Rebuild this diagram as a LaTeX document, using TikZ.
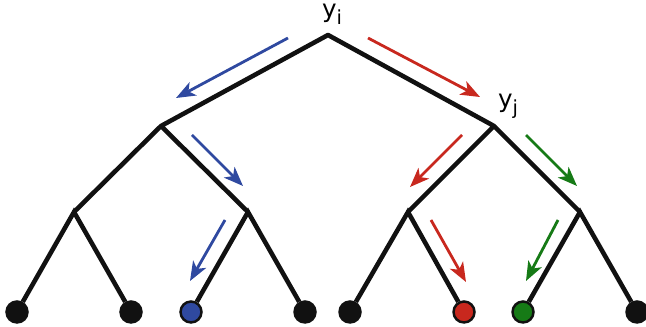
\documentclass[tikz,border=0pt]{standalone}
\usepackage{fontspec}
\setsansfont{DejaVu Sans}
\usetikzlibrary{arrows.meta}
\definecolor{tblue}{RGB}{47,73,160}
\definecolor{tred}{RGB}{200,40,30}
\definecolor{tgreen}{RGB}{22,122,22}
\definecolor{tblack}{RGB}{17,17,17}
\newcommand{\lbl}[2]{#1\raisebox{-0.5ex}{\fontsize{11}{11}\selectfont #2}}
\begin{document}
\begin{tikzpicture}[x=0.02cm, y=-0.02cm, font=\sffamily\fontsize{14}{16}\selectfont,
          edge/.style={draw=tblack, line width=2.6pt},
          leaf/.style={circle, draw=tblack, line width=1.4pt, fill=tblack, minimum size=0.42cm, inner sep=0pt},
          arr/.style={-{Stealth[length=11pt, width=8.5pt, inset=3pt]}, line width=1.6pt}]
        \useasboundingbox (0,0) rectangle (646,327);
        % inner nodes
        \coordinate (r) at (328,35);
        \coordinate (a) at (161,126);
        \coordinate (b) at (494,126);
        \coordinate (aa) at (74,212);
        \coordinate (ab) at (248,212);
        \coordinate (ba) at (408,212);
        \coordinate (bb) at (580,212);
        % leaves
        \node[leaf] (l1) at (17,312) {};
        \node[leaf] (l2) at (131,312) {};
        \node[leaf, fill=tblue] (l3) at (191,312) {};
        \node[leaf] (l4) at (305,312) {};
        \node[leaf] (l5) at (350,312) {};
        \node[leaf, fill=tred] (l6) at (464,312) {};
        \node[leaf, fill=tgreen] (l7) at (523,312) {};
        \node[leaf] (l8) at (637,312) {};
        % labels
        \node (yi) at (332,14) {\lbl{y}{i}};
        \node (yj) at (508,106) {\lbl{y}{j}};
        % tree
        \draw[edge, line join=round] (aa) -- (a) -- (r) -- (b) -- (ba);
        \draw[edge] (a) -- (ab);
        \draw[edge] (b) -- (bb);
        \draw[edge] (l1) -- (aa) -- (l2);
        \draw[edge] (l3) -- (ab) -- (l4);
        \draw[edge] (l5) -- (ba) -- (l6);
        \draw[edge] (l7) -- (bb) -- (l8);
        % messages
        \coordinate (m1s) at (288,38); \coordinate (m1e) at (176,98);
        \coordinate (m2s) at (368,38); \coordinate (m2e) at (480,97);
        \coordinate (m3s) at (192,135); \coordinate (m3e) at (243,186);
        \coordinate (m4s) at (462,135); \coordinate (m4e) at (410,187);
        \coordinate (m5s) at (526,135); \coordinate (m5e) at (577,186);
        \coordinate (m6s) at (225,220); \coordinate (m6e) at (190,281);
        \coordinate (m7s) at (431,220); \coordinate (m7e) at (466,282);
        \coordinate (m8s) at (558,220); \coordinate (m8e) at (526,281);
        \draw[arr, tblue] (m1s) -- (m1e);
        \draw[arr, tred] (m2s) -- (m2e);
        \draw[arr, tblue] (m3s) -- (m3e);
        \draw[arr, tred] (m4s) -- (m4e);
        \draw[arr, tgreen] (m5s) -- (m5e);
        \draw[arr, tblue] (m6s) -- (m6e);
        \draw[arr, tred] (m7s) -- (m7e);
        \draw[arr, tgreen] (m8s) -- (m8e);
      \end{tikzpicture}
\end{document}
